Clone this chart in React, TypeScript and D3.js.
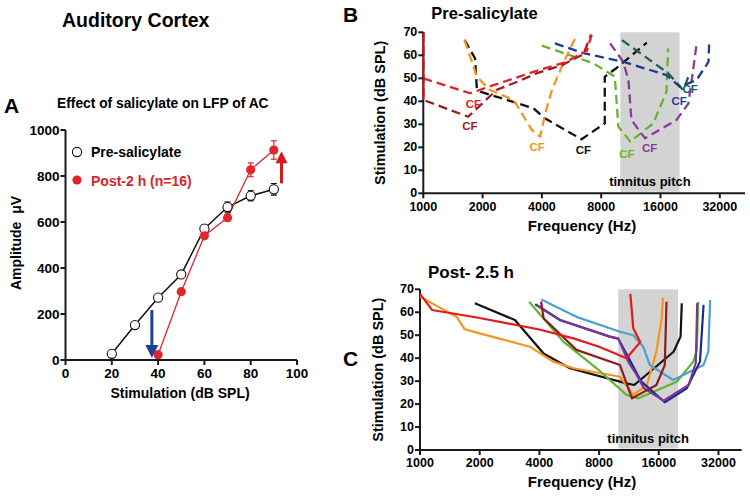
import React from "react";
import * as d3 from "d3";

const FONT = "'Liberation Sans', Arial, Helvetica, sans-serif";

// ---------- Panel A data ----------
const stimLevels = [20, 30, 40, 50, 60, 70, 80, 90];
const preAmp = [27, 152, 271, 372, 571, 665, 714, 742];
const preErr = [8, 8, 10, 10, 15, 22, 22, 25];
const postLevels = [40, 50, 60, 70, 80, 90];
const postAmp = [23, 297, 540, 619, 827, 913];
const postErr = [8, 10, 12, 15, 30, 40];
const aXTicks = [0, 20, 40, 60, 80, 100];
const aYTicks = [0, 200, 400, 600, 800, 1000];

// ---------- Panel B/C axes ----------
const freqTicks = [1000, 2000, 4000, 8000, 16000, 32000];
const dbTicks = [0, 10, 20, 30, 40, 50, 60, 70];
const tinnitusBand = [10000, 20000];

// ---------- Panel B (pre-salicylate, dashed) : [Hz, dB SPL] ----------
const preRed: [number, number][] = [[1000, 50], [1730, 43.5], [2270, 47], [3840, 53.5], [5280, 57], [6770, 62], [7160, 69]];
const preDarkRed: [number, number][] = [[1000, 70], [1000, 40.6], [1690, 33.3], [2360, 45], [3000, 48.5], [3850, 52.5], [5000, 55.5], [6500, 60.5], [7100, 69]];
const preBlack: [number, number][] = [[1620, 66.7], [1830, 58.7], [1870, 45.5], [1945, 44.2], [3620, 37], [4140, 32.6], [6360, 23.5], [8340, 30.4], [8340, 50.7], [9580, 54.5], [13640, 65.5]];
const preOrange: [number, number][] = [[1620, 66.6], [1870, 50.7], [2170, 45], [2870, 40.6], [3050, 37], [3560, 27.5], [3920, 24.6], [4140, 34], [4500, 45], [5130, 56.5], [5900, 67.4]];
const preGreen: [number, number][] = [[4000, 64.2], [7310, 56.5], [9380, 50.7], [9780, 29], [11240, 22.5], [14720, 30.4], [17150, 44.2], [17500, 63]];
const prePurple: [number, number][] = [[8880, 65.2], [10340, 57.2], [11000, 49.3], [11390, 31.9], [13360, 23.9], [19290, 31.9], [22160, 39], [23430, 53.6], [24420, 65.2]];
const preNavy: [number, number][] = [[4660, 65.2], [6500, 60.9], [10340, 57.2], [17150, 51.4], [20110, 46.3], [24420, 49.3], [28050, 57.2], [28250, 65.2]];
const preTeal: [number, number][] = [[10200, 66.6], [17500, 52.2], [20820, 44.9], [22500, 52]];

const preCurves = [
  { pts: preBlack, color: "#111111" },
  { pts: preOrange, color: "#f7941d" },
  { pts: preGreen, color: "#67b32e" },
  { pts: prePurple, color: "#8b3a9e" },
  { pts: preTeal, color: "#1e5e5a" },
  { pts: preNavy, color: "#1f3a93" },
  { pts: preDarkRed, color: "#9c1c22" },
  { pts: preRed, color: "#e4212b" },
];

// CF labels: [Hz, dB, color]
const cfLabels: [number, number, string][] = [
  [1794, 38.8, "#e4212b"],
  [1725, 29.2, "#9c1c22"],
  [3780, 20, "#f7941d"],
  [6500, 18.8, "#111111"],
  [10800, 17.1, "#67b32e"],
  [14100, 19.6, "#8b3a9e"],
  [19900, 40.2, "#1f3a93"],
  [22600, 45.2, "#1e5e5a"],
];

// ---------- Panel C (post 2.5 h, solid) ----------
const postRed: [number, number][] = [[1000, 68], [1150, 61], [2000, 57.5], [4000, 52.5], [6000, 48.5], [8000, 45], [11000, 40], [12900, 47], [11900, 53], [11500, 68]];
const postOrange: [number, number][] = [[1000, 66.8], [1530, 58], [1680, 52.6], [2000, 50.8], [3580, 45], [4690, 38.5], [5940, 35.6], [10200, 31.9], [11900, 24], [13930, 28.3], [15560, 42.8], [16560, 57.4], [16800, 66.3]];
const postBlack: [number, number][] = [[1890, 63.9], [3010, 56.6], [4200, 42], [5700, 35.6], [11000, 29], [12000, 28.3], [12900, 30.5], [19000, 42.8], [20600, 49.4], [20900, 63.9]];
const postGreen: [number, number][] = [[3550, 64.6], [5280, 47.2], [7780, 35.6], [11000, 24], [12640, 22.5], [19700, 29.7], [23900, 38.5], [24900, 43.6], [25280, 64.6]];
const postLightBlue: [number, number][] = [[4090, 65.6], [6150, 58], [10200, 51.5], [11880, 50], [13360, 45], [14420, 37], [18900, 30.5], [26900, 37], [28440, 42.8], [29040, 65.3]];
const postNavy: [number, number][] = [[3810, 63.5], [5100, 56.5], [9060, 49.4], [9990, 48.5], [11300, 40], [13000, 30], [17150, 20.8], [22160, 26.9], [25810, 38.5], [26910, 63.2]];
const postPurple: [number, number][] = [[3860, 63.2], [5100, 56.6], [9060, 49.4], [10000, 48.5], [11300, 38], [12380, 32.7], [13450, 27], [16910, 21.5], [22630, 28.3], [24590, 38], [25000, 64]];
const postDarkRed: [number, number][] = [[4080, 64.6], [4200, 57.4], [6150, 43.6], [10200, 37], [11710, 22.5], [15560, 28.3], [17150, 37], [17500, 64.6]];

const postCurves = [
  { pts: postBlack, color: "#111111" },
  { pts: postOrange, color: "#f7931e" },
  { pts: postGreen, color: "#5db731" },
  { pts: postLightBlue, color: "#4f9fcf" },
  { pts: postNavy, color: "#1b2a8e" },
  { pts: postPurple, color: "#7b3594" },
  { pts: postDarkRed, color: "#8e1b1f" },
  { pts: postRed, color: "#e31a1c" },
];

const AXIS = "#1a1a1a";

function PanelA() {
  const x = d3.scaleLinear().domain([0, 100]).range([65.5, 297]);
  const y = d3.scaleLinear().domain([0, 1000]).range([360, 130]);
  const line = d3.line<[number, number]>().x((d) => x(d[0])).y((d) => y(d[1]));
  const pre = stimLevels.map((s, i) => [s, preAmp[i]] as [number, number]);
  const post = postLevels.map((s, i) => [s, postAmp[i]] as [number, number]);
  const errBar = (s: number, v: number, e: number, color: string, key: string) => (
    <g key={key} stroke={color} strokeWidth={1.2}>
      <line x1={x(s)} x2={x(s)} y1={y(v - e)} y2={y(v + e)} />
      <line x1={x(s) - 3} x2={x(s) + 3} y1={y(v + e)} y2={y(v + e)} />
      <line x1={x(s) - 3} x2={x(s) + 3} y1={y(v - e)} y2={y(v - e)} />
    </g>
  );
  return (
    <g fontFamily={FONT} fontWeight="bold">
      <text x={4} y={113} fontSize={21}>A</text>
      <text x={57} y={108} fontSize={13.8}>Effect of salicylate on LFP of AC</text>
      {/* axes */}
      <line x1={x(0)} x2={x(0)} y1={y(1000)} y2={y(0) + 1} stroke={AXIS} strokeWidth={2} />
      <line x1={x(0) - 1} x2={x(100)} y1={y(0)} y2={y(0)} stroke={AXIS} strokeWidth={2} />
      {aYTicks.map((t) => (
        <g key={"ya" + t}>
          <line x1={x(0) - 5} x2={x(0)} y1={y(t)} y2={y(t)} stroke={AXIS} strokeWidth={2} />
          <text x={x(0) - 6} y={y(t)} dy="0.36em" textAnchor="end" fontSize={13.5}>{t}</text>
        </g>
      ))}
      {aXTicks.map((t) => (
        <g key={"xa" + t}>
          <line x1={x(t)} x2={x(t)} y1={y(0)} y2={y(0) + 5} stroke={AXIS} strokeWidth={2} />
          <text x={x(t)} y={378} textAnchor="middle" fontSize={13.5}>{t}</text>
        </g>
      ))}
      <text x={180} y={398} textAnchor="middle" fontSize={14}>Stimulation (dB SPL)</text>
      <text transform="translate(21,243) rotate(-90)" textAnchor="middle" fontSize={14}>{"Amplitude\u00a0\u00a0μV"}</text>
      {/* lines */}
      <path d={line(pre) || ""} fill="none" stroke="#111" strokeWidth={1.5} />
      <path d={line(post) || ""} fill="none" stroke="#e0262c" strokeWidth={1.3} />
      {stimLevels.map((s, i) => errBar(s, preAmp[i], preErr[i], "#111", "pe" + i))}
      {postLevels.map((s, i) => errBar(s, postAmp[i], postErr[i], "#e0262c", "qe" + i))}
      {pre.map((d, i) => (
        <circle key={"pc" + i} cx={x(d[0])} cy={y(d[1])} r={4.6} fill="#fff" stroke="#111" strokeWidth={1.1} />
      ))}
      {post.map((d, i) => (
        <circle key={"qc" + i} cx={x(d[0])} cy={y(d[1])} r={4.6} fill="#e0262c" />
      ))}
      {/* arrows */}
      <line x1={x(37.3)} x2={x(37.3)} y1={y(217)} y2={y(60)} stroke="#1f3e99" strokeWidth={3} />
      <path d={`M${x(37.3) - 6.5},${y(65)} L${x(37.3) + 6.5},${y(65)} L${x(37.3)},${y(10)} Z`} fill="#1f3e99" />
      <line x1={x(93.3)} x2={x(93.3)} y1={y(768)} y2={y(860)} stroke="#d7191c" strokeWidth={3} />
      <path d={`M${x(93.3) - 6},${y(855)} L${x(93.3) + 6},${y(855)} L${x(93.3)},${y(908)} Z`} fill="#d7191c" />
      {/* legend */}
      <circle cx={77} cy={152} r={4.6} fill="#fff" stroke="#111" strokeWidth={1.1} />
      <text x={91} y={157} fontSize={14}>Pre-salicylate</text>
      <circle cx={77} cy={180} r={4.6} fill="#e0262c" />
      <text x={91} y={185.5} fontSize={14} fill="#d7262b">Post-2 h (n=16)</text>
    </g>
  );
}

function FreqPanel(props: {
  x0: number; x1: number; fmax: number; yTop: number; yBot: number;
  title: string; titleY: number; titleSize: number; letter: string; letterY: number;
  tickY: number; xlabY: number; ylabX: number; tinY: number; dashed: boolean;
  curves: { pts: [number, number][]; color: string }[]; cf?: [number, number, string][];
}) {
  const p = props;
  const x = d3.scaleLog().base(2).domain([1000, p.fmax]).range([p.x0, p.x1]);
  const y = d3.scaleLinear().domain([0, 70]).range([p.yBot, p.yTop]);
  const line = d3.line<[number, number]>().x((d) => x(d[0])).y((d) => y(d[1]));
  return (
    <g fontFamily={FONT} fontWeight="bold">
      <text x={343} y={p.letterY} fontSize={21}>{p.letter}</text>
      <text x={p.x0 + 8} y={p.titleY} fontSize={p.titleSize}>{p.title}</text>
      <rect x={x(tinnitusBand[0])} width={x(tinnitusBand[1]) - x(tinnitusBand[0])} y={y(70)} height={y(0) - y(70) - 1.5} fill="#d3d3d3" />
      <text x={(x(tinnitusBand[0]) + x(tinnitusBand[1])) / 2} y={p.tinY} textAnchor="middle" fontSize={13}>tinnitus pitch</text>
      <line x1={p.x0} x2={p.x0} y1={y(70)} y2={y(0) + 1} stroke={AXIS} strokeWidth={2} />
      <line x1={p.x0 - 1} x2={p.x1} y1={y(0)} y2={y(0)} stroke={AXIS} strokeWidth={2} />
      {p.curves.map((c, i) => (
        <path key={i} d={line(c.pts) || ""} fill="none" stroke={c.color}
          strokeWidth={p.dashed ? 2.3 : 2.2} strokeDasharray={p.dashed ? "9,5" : undefined} strokeLinejoin="round" />
      ))}
      {p.dashed && (
        <path d={line(preDarkRed.slice(0, 2)) || ""} fill="none" stroke="#b81c24" strokeWidth={2.2} />
      )}
      {(p.cf || []).map((c, i) => (
        <text key={"cf" + i} x={x(c[0])} y={y(c[1])} dy="0.36em" textAnchor="middle" fontSize={11.5} fill={c[2]}>CF</text>
      ))}
      {dbTicks.map((t) => (
        <g key={"y" + t}>
          <line x1={p.x0 - 5} x2={p.x0} y1={y(t)} y2={y(t)} stroke={AXIS} strokeWidth={2} />
          <text x={p.x0 - 6} y={y(t)} dy="0.33em" textAnchor="end" fontSize={12.5}>{t}</text>
        </g>
      ))}
      {freqTicks.map((t) => (
        <g key={"x" + t}>
          <line x1={x(t)} x2={x(t)} y1={y(0)} y2={y(0) + 5} stroke={AXIS} strokeWidth={2} />
          <text x={x(t)} y={p.tickY} textAnchor="middle" fontSize={12.5}>{t}</text>
        </g>
      ))}
      <text x={582} y={p.xlabY} textAnchor="middle" fontSize={15}>Frequency (Hz)</text>
      <text transform={`translate(${p.ylabX},${(p.yTop + p.yBot) / 2}) rotate(-90)`} textAnchor="middle" fontSize={14.5}>Stimulation (dB SPL)</text>
    </g>
  );
}

export default function App() {
  return (
    <svg width={750} height={498} viewBox="0 0 750 498" style={{ display: "block", position: "absolute", left: 0, top: 0, background: "#fff" }}>
      <rect width={750} height={498} fill="#fff" />
      <text x={62} y={27} fontFamily={FONT} fontWeight="bold" fontSize={19.5}>Auditory Cortex</text>
      <PanelA />
      <FreqPanel x0={423.3} x1={745} fmax={42960} yTop={32.3} yBot={193.3}
        title="Pre-salicylate" titleY={19} titleSize={16.5} letter="B" letterY={22}
        tickY={211} xlabY={231} ylabX={385} tinY={186} dashed={true}
        curves={preCurves} cf={cfLabels} />
      <FreqPanel x0={420} x1={741.7} fmax={41900} yTop={289.3} yBot={450}
        title="Post- 2.5 h" titleY={278} titleSize={17} letter="C" letterY={366}
        tickY={467} xlabY={487} ylabX={383} tinY={443} dashed={false}
        curves={postCurves} />
    </svg>
  );
}
